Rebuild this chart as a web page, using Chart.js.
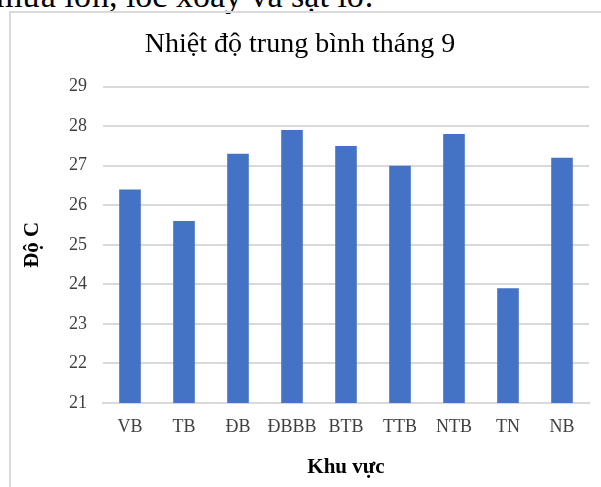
<!DOCTYPE html>
<html>
<head>
<meta charset="utf-8">
<script src="https://cdn.jsdelivr.net/npm/chart.js@4"></script>
<style>
  html, body { margin: 0; padding: 0; background: #fff; overflow: hidden; }
  body { width: 601px; height: 487px; position: relative; }
  #above {
    position: absolute; left: -4px; top: -21px; white-space: nowrap; line-height: 34px;
    font-family: "Liberation Serif", "DejaVu Serif", serif; font-size: 34px; color: #000;
  }
  #frame {
    position: absolute; left: 9px; top: 11px; width: 620px; height: 500px;
    border-left: 2px solid #d9d9d9; border-top: 2px solid #d9d9d9;
  }
  #box { position: absolute; left: 11px; top: 13px; width: 590px; height: 474px; }
</style>
</head>
<body>
<div id="above">mưa lớn, lốc xoáy và sạt lở.</div>
<div id="frame"></div>
<div id="box"><canvas id="chart"></canvas></div>
<script>
// Nhiệt độ trung bình tháng 9 theo khu vực
const regions = ['VB', 'TB', 'ĐB', 'ĐBBB', 'BTB', 'TTB', 'NTB', 'TN', 'NB'];
const temps = [26.4, 25.6, 27.3, 27.9, 27.5, 27.0, 27.8, 23.9, 27.2];
const yMin = 21;
const yMax = 29;

const serif = '"Liberation Serif", "DejaVu Serif", serif';

document.addEventListener('DOMContentLoaded', function() {
    const ctx = document.getElementById('chart').getContext('2d');
    new Chart(ctx, {
        type: 'bar',
        data: {
            labels: regions,
            datasets: [{
                data: temps,
                backgroundColor: '#4472C4',
                categoryPercentage: 1,
                barPercentage: 0.4
            }]
        },
        options: {
            responsive: true,
            maintainAspectRatio: false,
            animation: false,
            layout: { padding: { right: 12, top: 0, left: 0, bottom: 0 } },
            plugins: {
                legend: { display: false },
                tooltip: { enabled: false },
                title: {
                    display: true,
                    text: 'Nhiệt độ trung bình tháng 9',
                    color: '#000',
                    font: { family: serif, size: 28, weight: 'normal' },
                    padding: { top: 15, bottom: 25 }
                }
            },
            scales: {
                x: {
                    grid: { display: false, drawTicks: false },
                    border: { color: '#d9d9d9', width: 2 },
                    ticks: {
                        color: '#404040',
                        font: { family: serif, size: 18 },
                        padding: 13,
                        maxRotation: 0,
                        minRotation: 0,
                        autoSkip: false
                    },
                    title: {
                        display: true,
                        text: 'Khu vực',
                        color: '#000',
                        font: { family: serif, size: 21, weight: 'bold' },
                        padding: { top: 0, bottom: 7 }
                    },
                    afterFit: function(scale) { scale.height = 84; }
                },
                y: {
                    min: yMin,
                    max: yMax,
                    grid: { color: '#d9d9d9', lineWidth: 2, drawTicks: false },
                    border: { display: false },
                    ticks: {
                        stepSize: 1,
                        color: '#404040',
                        font: { family: serif, size: 18 },
                        padding: 16
                    },
                    title: {
                        display: true,
                        text: 'Độ C',
                        color: '#000',
                        font: { family: serif, size: 21, weight: 'bold' },
                        padding: { top: 9, bottom: 0 }
                    },
                    afterFit: function(scale) { scale.width = 92; }
                }
            }
        }
    });
});
</script>
</body>
</html>
